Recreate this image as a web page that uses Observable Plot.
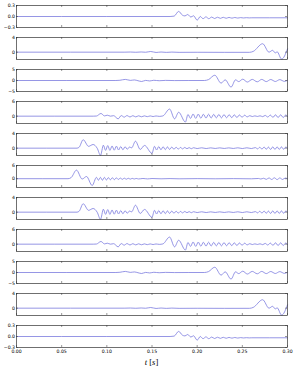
<!DOCTYPE html>
<html><head><meta charset="utf-8">
<script src="https://cdn.jsdelivr.net/npm/d3@7"></script>
<script src="https://cdn.jsdelivr.net/npm/@observablehq/plot@0.6"></script>
<style>
body{margin:0;background:#fff}
#wrap{position:relative;width:295px;height:372px;overflow:hidden}
#wrap svg{display:block}
#xlab{position:absolute;left:16px;width:271px;top:357px;text-align:center;font:8.5px "Liberation Serif",serif;color:#000;line-height:10px}
</style>
</head><body><div id="wrap"></div>
<script>
// ---- data: [t (s), value] ----
const sigA = [[0,0],[0.1,0],[0.17,0],[0.1745,0.01],[0.1795,0.14],[0.1835,0.04],[0.1865,0.015],[0.1895,0.055],[0.193,-0.015],[0.196,0.02],[0.2,-0.1],[0.2035,0.0],[0.2065,-0.06],[0.2097,-0.01],[0.2129,-0.06],[0.2161,-0.015],[0.2193,-0.055],[0.2225,-0.02],[0.2257,-0.05],[0.2289,-0.022],[0.2321,-0.048],[0.2353,-0.025],[0.2385,-0.045],[0.2417,-0.027],[0.2449,-0.043],[0.2481,-0.03],[0.2513,-0.04],[0.2545,-0.032],[0.2577,-0.038],[0.26,-0.035],[0.3,-0.035]];
const sigB = [[0,0],[0.12,0],[0.126,0.04],[0.132,-0.03],[0.138,0.05],[0.143,-0.02],[0.1485,0.18],[0.1545,-0.08],[0.16,0.04],[0.166,-0.06],[0.172,0.02],[0.18,-0.05],[0.2,-0.03],[0.23,-0.05],[0.258,-0.04],[0.262,0.2],[0.2725,2.3],[0.2795,0.0],[0.2835,0.5],[0.2865,-0.2],[0.2885,0.1],[0.2935,-1.9],[0.3,0.9]];
const sigC = [[0,0],[0.11,0],[0.1145,0.1],[0.1205,0.5],[0.126,0.05],[0.1305,0.25],[0.1345,-0.1],[0.1385,-0.45],[0.143,0.05],[0.1475,-0.2],[0.152,0.1],[0.158,-0.1],[0.165,0.05],[0.175,-0.03],[0.19,0],[0.208,0],[0.2125,0.4],[0.2195,2.4],[0.2265,-1.2],[0.231,0.3],[0.2375,-3.0],[0.2425,0.3],[0.246,-0.5],[0.2505,0.6],[0.2555,-0.7],[0.261,0.5],[0.2665,-0.6],[0.2715,0.5],[0.2765,-0.5],[0.2815,0.45],[0.2865,-0.45],[0.2915,0.4],[0.2965,-0.4],[0.3,0.1]];
const sigD = [[0,0],[0.085,0],[0.0885,0.05],[0.0935,1.1],[0.0975,0.1],[0.1005,0.4],[0.104,0.0],[0.1075,0.2],[0.1125,-1.1],[0.116,0.25],[0.1192,-0.4],[0.1224,0.25],[0.1256,-0.35],[0.1288,0.2],[0.132,-0.3],[0.1352,0.15],[0.1384,-0.25],[0.1416,0.12],[0.1448,-0.2],[0.148,0.1],[0.1512,-0.15],[0.1544,0.08],[0.158,-0.08],[0.162,0.1],[0.1695,2.9],[0.175,-1.1],[0.1795,1.6],[0.187,-2.4],[0.1898,0.7],[0.1927,-0.9],[0.1955,0.9],[0.1984,-0.9],[0.2012,0.85],[0.2041,-0.85],[0.2069,0.8],[0.2098,-0.8],[0.2126,0.8],[0.2155,-0.75],[0.2183,0.75],[0.2212,-0.7],[0.224,0.7],[0.2269,-0.7],[0.2297,0.65],[0.2326,-0.65],[0.2354,0.6],[0.2383,-0.6],[0.2411,0.55],[0.244,-0.55],[0.2468,0.5],[0.2497,-0.45],[0.2525,0.4],[0.2554,-0.3],[0.2582,0.2],[0.2611,-0.15],[0.2639,0.12],[0.2668,-0.12],[0.2696,0.15],[0.2725,-0.2],[0.2753,0.3],[0.2782,-0.35],[0.281,0.45],[0.2839,-0.5],[0.2867,0.55],[0.2896,-0.55],[0.2924,0.55],[0.2953,-0.55],[0.2981,0.5],[0.3,-0.2]];
const sigE = [[0,0],[0.067,0],[0.0695,0.3],[0.0738,2.3],[0.0798,0.5],[0.0848,1.0],[0.0893,0],[0.093,-1.95],[0.0962,0.8],[0.0986,-0.6],[0.101,0.7],[0.1034,-0.6],[0.1058,0.6],[0.1082,-0.55],[0.1106,0.55],[0.113,-0.5],[0.1154,0.45],[0.1178,-0.45],[0.1202,0.4],[0.1226,-0.3],[0.125,0.3],[0.1275,0.1],[0.1317,1.9],[0.137,-0.35],[0.1417,0.75],[0.15,-1.4],[0.1527,0.5],[0.1551,-0.5],[0.1575,0.45],[0.1599,-0.45],[0.1623,0.4],[0.1647,-0.4],[0.1671,0.35],[0.1695,-0.35],[0.1719,0.3],[0.1743,-0.3],[0.1767,0.25],[0.1791,-0.25],[0.1815,0.2],[0.1839,-0.2],[0.1863,0.2],[0.1887,-0.15],[0.1911,0.15],[0.1935,-0.15],[0.196,0.12],[0.2,-0.1],[0.205,0.1],[0.21,-0.1],[0.215,0.08],[0.22,-0.08],[0.225,0.08],[0.23,-0.08],[0.235,0.08],[0.24,-0.08],[0.245,0.1],[0.25,-0.1],[0.255,0.1],[0.26,-0.1],[0.2645,0.15],[0.2669,-0.2],[0.2693,0.25],[0.2717,-0.25],[0.2741,0.3],[0.2765,-0.3],[0.2789,0.3],[0.2813,-0.35],[0.2837,0.35],[0.2861,-0.35],[0.2885,0.35],[0.2909,-0.35],[0.2933,0.35],[0.2957,-0.3],[0.2981,0.3],[0.3,0]];
const sigF = [[0,0],[0.057,0],[0.0605,0.5],[0.0664,3.9],[0.0727,-0.15],[0.0775,1.0],[0.0838,-3.1],[0.0885,0.6],[0.0907,-0.7],[0.0929,0.6],[0.0951,-0.7],[0.0973,0.6],[0.0995,-0.6],[0.1017,0.5],[0.1039,-0.5],[0.1061,0.45],[0.1083,-0.45],[0.1105,0.4],[0.1127,-0.35],[0.1149,0.3],[0.1171,-0.3],[0.1193,0.25],[0.1215,-0.25],[0.1237,0.2],[0.1259,-0.2],[0.1281,0.15],[0.1303,-0.15],[0.1325,0.12],[0.135,-0.12],[0.14,0.1],[0.145,-0.1],[0.15,0.08],[0.16,-0.05],[0.17,0.05],[0.18,-0.05],[0.2,0.04],[0.22,-0.04],[0.24,0.04],[0.26,-0.05],[0.268,0.1],[0.2705,-0.15],[0.2735,0.2],[0.2765,-0.3],[0.2795,0.35],[0.2825,-0.35],[0.2855,0.4],[0.2885,-0.4],[0.2915,0.35],[0.2945,-0.35],[0.2975,0.3],[0.3,0]];

const panelSignals = [sigA, sigB, sigC, sigD, sigE, sigF, sigE, sigD, sigC, sigB, sigA];
const panelDomains = [[-0.3,0.3],[-2,4],[-5,5],[-3,6],[-2,4],[-4,6],[-2,4],[-3,6],[-5,5],[-2,4],[-0.3,0.3]];
const panelTicks = [[-0.3,0,0.3],[0,4],[-5,0,5],[0,6],[0,4],[0,6],[0,4],[0,6],[-5,0,5],[0,4],[-0.3,0,0.3]];
const xTicks = [0,0.05,0.1,0.15,0.2,0.25,0.3];
const xLabel = ["t", " [", "s", "]"];

const LINE = "#7373dc", INK = "#333";
const W = 295, ML = 16, MR = 8, PH = 22, STEP = 32, TOP = 5;
const wrap = document.getElementById("wrap");
const minus = s => s.replace("-", "\u2212");

panelSignals.forEach((sig, i) => {
  const last = i === panelSignals.length - 1;
  const rows = sig.map(([t, v]) => ({t, v}));
  const dom = panelDomains[i];
  const dec = dom.some(d => !Number.isInteger(d)) ? 1 : 0;
  const iw = W - ML - MR;
  const marks = [
    Plot.line(rows, {x: "t", y: "v", stroke: LINE, strokeWidth: 0.75, curve: "monotone-x"}),
    Plot.tickX(xTicks, {x: d => d, insetTop: PH - 2, stroke: INK, strokeWidth: 0.5}),
    Plot.tickX(xTicks, {x: d => d, insetBottom: PH - 2, stroke: INK, strokeWidth: 0.5}),
    Plot.tickY(panelTicks[i], {y: d => d, insetRight: iw - 2, stroke: INK, strokeWidth: 0.5}),
    Plot.tickY(panelTicks[i], {y: d => d, insetLeft: iw - 2, stroke: INK, strokeWidth: 0.5}),
    Plot.frame({stroke: INK, strokeWidth: 0.7}),
    Plot.axisY(panelTicks[i], {tickSize: 0, tickPadding: 1.5, fontSize: 4.6, label: null,
      tickFormat: d => minus(d.toFixed(dec))})
  ];
  if (last) marks.push(Plot.axisX(xTicks, {tickSize: 0, tickPadding: 1.8, fontSize: 4.6, label: null,
      tickFormat: d => d.toFixed(2)}));
  const svg = Plot.plot({
    width: W,
    height: last ? STEP + 10 : STEP,
    marginTop: TOP,
    marginBottom: last ? 15 : STEP - TOP - PH,
    marginLeft: ML,
    marginRight: MR,
    x: last ? {domain: [0, 0.3]} : {domain: [0, 0.3], axis: null},
    y: {domain: dom},
    style: {fontFamily: "DejaVu Sans", color: "#000", background: "#fff", overflow: "visible"},
    marks
  });
  wrap.appendChild(svg);
});

const lab = document.createElement("div");
lab.id = "xlab";
lab.innerHTML = xLabel.map((s, k) => k % 2 === 0 ? `<i>${s}</i>` : s).join("");
wrap.appendChild(lab);
</script>
</body></html>
